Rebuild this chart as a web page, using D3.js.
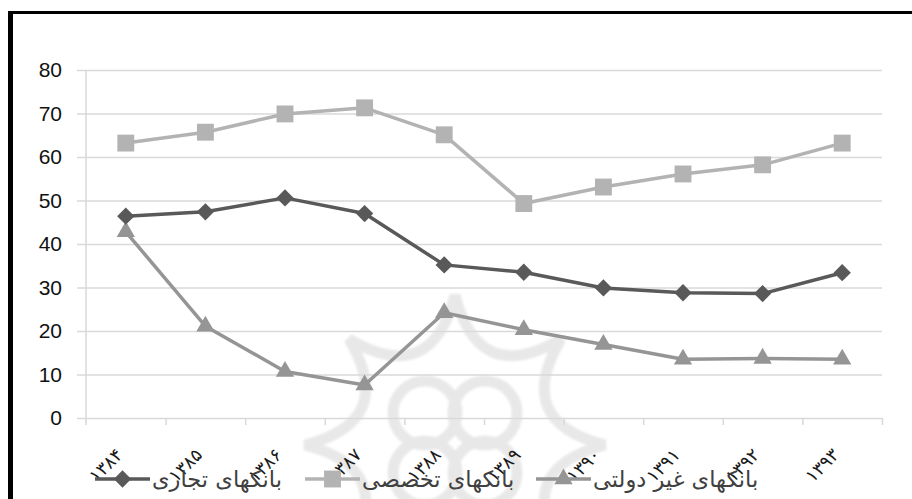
<!DOCTYPE html>
<html>
<head>
<meta charset="utf-8">
<script src="https://cdn.jsdelivr.net/npm/d3@7/dist/d3.min.js"></script>
<style>
  html, body { margin: 0; padding: 0; background: #fff; }
  svg { display: block; }
</style>
</head>
<body>
<svg id="chart" width="912" height="499"></svg>
<script>
// Years (Solar Hijri) on the category axis
const years = ["۱۳۸۴", "۱۳۸۵", "۱۳۸۶", "۱۳۸۷", "۱۳۸۸", "۱۳۸۹", "۱۳۹۰", "۱۳۹۱", "۱۳۹۲", "۱۳۹۳"];

// Series values (percent)
const commercial = [46.4, 47.4, 50.6, 47.0, 35.2, 33.5, 29.9, 28.8, 28.6, 33.4];
const specialized = [63.2, 65.7, 69.9, 71.3, 65.1, 49.3, 53.1, 56.1, 58.2, 63.2];
const nonGovernment = [42.8, 21.1, 10.7, 7.6, 24.2, 20.3, 16.9, 13.5, 13.7, 13.5];

// Series names for the legend
const seriesNames = ["بانکهای تجاری", "بانکهای تخصصی", "بانکهای غیر دولتی"];

// Value axis ticks
const yTicks = [0, 10, 20, 30, 40, 50, 60, 70, 80];

const svg = d3.select("#chart");
const W = 912, H = 499;
const plot = { left: 86, right: 882, top: 70, bottom: 418 };

svg.append("rect").attr("width", W).attr("height", H).attr("fill", "#fff");

// Faint ornamental emblem in the background
const defs = svg.append("defs");
defs.append("filter").attr("id", "soft")
  .append("feGaussianBlur").attr("stdDeviation", 1.2);
const emblem = svg.append("g")
  .attr("fill", "none")
  .attr("stroke", "#c4c4c4")
  .attr("stroke-width", 11)
  .attr("opacity", 0.38)
  .attr("filter", "url(#soft)");
(function drawEmblem() {
  const cx = 455, cy = 445, R = 150, r = 62, n = 8;
  let d = "";
  for (let i = 0; i < n; i++) {
    const a0 = -Math.PI / 2 + i * 2 * Math.PI / n;
    const a1 = a0 + 2 * Math.PI / n;
    const am = (a0 + a1) / 2;
    const p0 = [cx + R * Math.cos(a0), cy + R * Math.sin(a0)];
    const p1 = [cx + R * Math.cos(a1), cy + R * Math.sin(a1)];
    const pm = [cx + r * Math.cos(am), cy + r * Math.sin(am)];
    if (i === 0) d += `M${p0[0]},${p0[1]}`;
    d += `Q${pm[0]},${pm[1]} ${p1[0]},${p1[1]}`;
  }
  emblem.append("path").attr("d", d + "Z");
  [[-30, -32], [30, -32], [-30, 28], [30, 28]].forEach(([dx, dy]) => {
    emblem.append("circle").attr("cx", cx + dx).attr("cy", cy + dy).attr("r", 32);
  });
})();

// Scales
const x = d3.scaleBand().domain(years).range([plot.left, plot.right]).padding(0);
const y = d3.scaleLinear().domain([0, 80]).range([plot.bottom, plot.top]);
const xEdges = d3.scaleLinear().domain([0, years.length]).range([plot.left, plot.right]);

// Value axis with horizontal gridlines
const yAxis = svg.append("g")
  .attr("transform", `translate(${plot.left},0)`)
  .call(d3.axisLeft(y).tickValues(yTicks).tickSizeInner(-(plot.right - plot.left)).tickSizeOuter(0).tickPadding(24));
yAxis.select(".domain").remove();
yAxis.selectAll(".tick line").attr("x1", -9).attr("stroke", "#d9d9d9").attr("stroke-width", 1.5);
yAxis.selectAll(".tick text")
  .attr("font-family", "'Liberation Sans', Arial, sans-serif")
  .attr("font-size", 21)
  .attr("fill", "#111");

// Vertical axis line
svg.append("line")
  .attr("x1", plot.left).attr("x2", plot.left)
  .attr("y1", plot.top).attr("y2", plot.bottom + 7)
  .attr("stroke", "#d9d9d9").attr("stroke-width", 1.5);

// Category axis tick marks at the category boundaries
const xTickAxis = svg.append("g")
  .attr("transform", `translate(0,${plot.bottom})`)
  .call(d3.axisBottom(xEdges).tickValues(d3.range(1, years.length + 1)).tickSize(7).tickFormat(""));
xTickAxis.select(".domain").remove();
xTickAxis.selectAll(".tick line").attr("stroke", "#d9d9d9").attr("stroke-width", 1.5);

// Category labels, rotated
const xLabelAxis = svg.append("g")
  .attr("transform", `translate(0,${plot.bottom})`)
  .call(d3.axisBottom(x).tickSize(0).tickPadding(0));
xLabelAxis.select(".domain").remove();
xLabelAxis.selectAll(".tick text")
  .attr("font-family", "'DejaVu Sans', sans-serif")
  .attr("font-size", 18)
  .attr("fill", "#1a1a1a")
  .attr("text-anchor", "end")
  .attr("dy", 0)
  .attr("y", 0)
  .attr("transform", "translate(-2,38) rotate(-45)");

// Series definitions
const series = [
  { name: seriesNames[0], values: commercial, color: "#595959", marker: d3.symbolSquare, size: 150, rot: 45 },
  { name: seriesNames[1], values: specialized, color: "#b3b3b3", marker: d3.symbolSquare, size: 285, rot: 0 },
  { name: seriesNames[2], values: nonGovernment, color: "#959595", marker: d3.symbolTriangle, size: 145, rot: 0 }
];

const line = d3.line()
  .x((d, i) => x(years[i]) + x.bandwidth() / 2)
  .y(d => y(d));

// Draw order: specialized, non-government, commercial
[series[1], series[2], series[0]].forEach(s => {
  const g = svg.append("g");
  g.append("path")
    .datum(s.values)
    .attr("fill", "none")
    .attr("stroke", s.color)
    .attr("stroke-width", 3.5)
    .attr("stroke-linejoin", "round")
    .attr("d", line);
  g.selectAll("path.m")
    .data(s.values)
    .join("path")
    .attr("class", "m")
    .attr("d", d3.symbol().type(s.marker).size(s.size))
    .attr("transform", (d, i) => `translate(${x(years[i]) + x.bandwidth() / 2},${y(d)}) rotate(${s.rot})`)
    .attr("fill", s.color);
});

// Legend along the bottom: each entry is a short line with its marker, then the name
const legend = svg.append("g");
const legendStarts = [95, 305, 536];
const ly = 479;
const legendFont = "'DejaVu Sans', sans-serif";
// size the legend text so the first name spans about 130px
const probe = legend.append("text").attr("font-family", legendFont).attr("font-size", 20).text(seriesNames[0]);
const legendSize = Math.min(24, Math.max(16, 20 * 130 / probe.node().getComputedTextLength()));
probe.remove();
series.forEach((s, i) => {
  const lx = legendStarts[i];
  const item = legend.append("g");
  item.append("line")
    .attr("x1", lx).attr("x2", lx + 55)
    .attr("y1", ly).attr("y2", ly)
    .attr("stroke", s.color).attr("stroke-width", 3.5);
  item.append("path")
    .attr("d", d3.symbol().type(s.marker).size(s.size))
    .attr("transform", `translate(${lx + 27.5},${ly}) rotate(${s.rot})`)
    .attr("fill", s.color);
  item.append("text")
    .attr("x", lx + 57)
    .attr("y", ly + 8)
    .attr("font-family", legendFont)
    .attr("font-size", legendSize)
    .attr("fill", "#404040")
    .attr("text-anchor", "start")
    .text(s.name);
});

// Frame
svg.append("line").attr("x1", 8).attr("x2", W).attr("y1", 12.5).attr("y2", 12.5)
  .attr("stroke", "#000").attr("stroke-width", 3);
svg.append("line").attr("x1", 10.5).attr("x2", 10.5).attr("y1", 11).attr("y2", H)
  .attr("stroke", "#000").attr("stroke-width", 5);
</script>
</body>
</html>
